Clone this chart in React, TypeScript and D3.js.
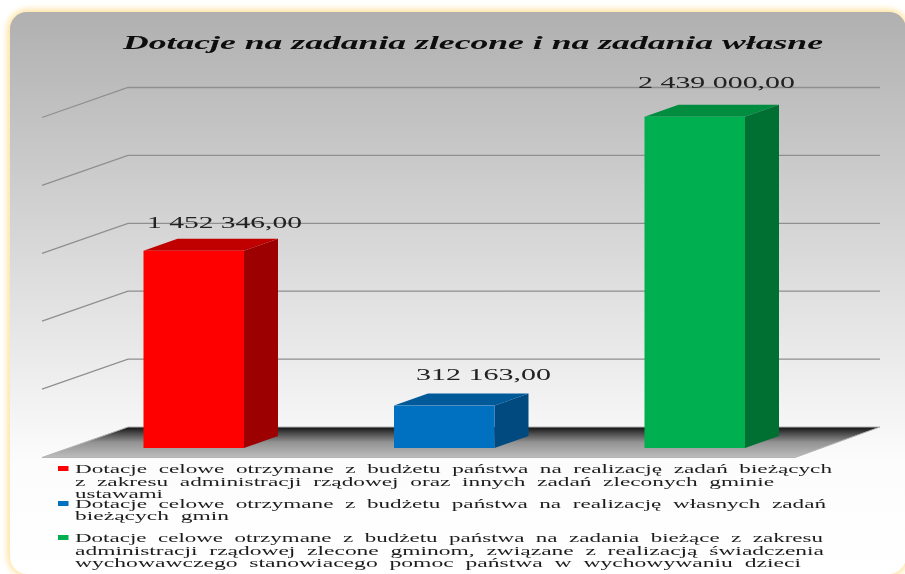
import React from "react";
import * as d3 from "d3";

const titleText = "Dotacje na zadania zlecone i na zadania własne";
const categories = ["zlecone", "wlasne", "wychowawcze"];
const values = [1452346, 312163, 2439000];
const valueLabels = ["1 452 346,00", "312 163,00", "2 439 000,00"];
const frontColors = ["#ff0000", "#0070c0", "#00b050"];
const topColors = ["#c00000", "#005a9a", "#008d40"];
const sideColors = ["#9c0000", "#004a80", "#006f32"];
const gridTicks = [500000, 1000000, 1500000, 2000000, 2500000];
const legendLines = [
  ["Dotacje celowe otrzymane z budżetu państwa na realizację zadań bieżących", "z zakresu administracji rządowej oraz innych zadań zleconych gminie", "ustawami"],
  ["Dotacje celowe otrzymane z budżetu państwa na realizację własnych zadań", "bieżących gmin"],
  ["Dotacje celowe otrzymane z budżetu państwa na zadania bieżące z zakresu", "administracji rządowej zlecone gminom, związane z realizacją świadczenia", "wychowawczego stanowiacego pomoc państwa w wychowywaniu dzieci"],
];
const legendWidths = [[757, 699, 88], [751, 154], [748, 749, 726]];
const legendBaselines = [[473, 485.5, 498], [508, 520], [542, 555, 567]];
const labelBoxes = [[147, 155, 228], [416, 135, 380], [638, 157, 88]];

const W = 905, H = 574;
const dx = 34, dy = 12;        // bar depth
const floorDx = 86, floorDy = 30; // wall depth
const y = d3.scaleLinear().domain([0, 2500000]).range([448, 108.5]);
const barW = 100.5;
const barX = d3.scalePoint<string>().domain(categories).range([143.5, 644.5]);
const SERIF = "'Liberation Serif','Times New Roman',serif";

export default function App() {
  const poly = (p: [number, number][]) => d3.line()(p)! + "Z";
  const backY = (v: number) => y(v) - 21;
  return (
    <svg width={W} height={H} viewBox={`0 0 ${W} ${H}`} style={{ position: "absolute", left: 0, top: 0, background: "#fff" }}>
      <defs>
        <linearGradient id="panel" x1="0" y1="0" x2="0" y2="1">
          <stop offset="0" stopColor="#b0b0b0" />
          <stop offset="0.5" stopColor="#e0e0e0" />
          <stop offset="0.8" stopColor="#fcfcfc" />
          <stop offset="1" stopColor="#ffffff" />
        </linearGradient>
        <linearGradient id="floor" x1="0" y1="0" x2="0" y2="1">
          <stop offset="0" stopColor="#111111" />
          <stop offset="0.2" stopColor="#484848" />
          <stop offset="0.5" stopColor="#929292" />
          <stop offset="1" stopColor="#bdbdbd" />
        </linearGradient>
        <filter id="glow" x="-5%" y="-5%" width="110%" height="110%">
          <feGaussianBlur stdDeviation="3.5" />
        </filter>
        <filter id="soft" x="-5%" y="-20%" width="110%" height="140%">
          <feGaussianBlur stdDeviation="0.45" />
        </filter>
      </defs>

      <rect x={8} y={10} width={900} height={566} rx={20} fill="#ffd97a" opacity={0.85} filter="url(#glow)" />
      <rect x={10} y={12} width={896} height={562} rx={17} fill="url(#panel)" />

      <g stroke="#8f8f8f" strokeWidth={1.3} fill="none" filter="url(#soft)">
        {gridTicks.map((t) => (
          <path key={t} d={d3.line()([
            [42, backY(t) + floorDy],
            [42 + floorDx, backY(t)],
            [880, backY(t)],
          ])!} />
        ))}
      </g>

      <path
        d={poly([[128, 427], [880, 427], [795, 457.5], [42, 457.5]])}
        fill="url(#floor)"
        stroke="#b4b4b4"
        strokeWidth={1}
      />

      {categories.map((c, i) => {
        const x0 = barX(c)!;
        const x1 = x0 + barW;
        const yt = y(values[i]);
        const yb = y(0);
        return (
          <g key={c}>
            <path d={poly([[x0, yt], [x0 + dx, yt - dy], [x1 + dx, yt - dy], [x1, yt]])} fill={topColors[i]} />
            <path d={poly([[x1, yt], [x1 + dx, yt - dy], [x1 + dx, yb - dy], [x1, yb]])} fill={sideColors[i]} />
            <rect x={x0} y={yt} width={barW} height={yb - yt} fill={frontColors[i]} />
          </g>
        );
      })}

      <g filter="url(#soft)">
        {valueLabels.map((t, i) => (
          <text key={t} x={labelBoxes[i][0]} y={labelBoxes[i][2]} textLength={labelBoxes[i][1]} lengthAdjust="spacingAndGlyphs"
            fontFamily={SERIF} fontSize={16.5} fill="#222">{t}</text>
        ))}
        <text x={123} y={49} textLength={700} lengthAdjust="spacingAndGlyphs" fontFamily={SERIF}
          fontSize={18} fontWeight="bold" fontStyle="italic" fill="#0a0a0a">{titleText}</text>

        {legendLines.map((lines, i) => (
          <g key={i}>
            <rect x={58} y={legendBaselines[i][0] - 7} width={10.5} height={5} fill={frontColors[i]} />
            {lines.map((l, j) => (
              <text key={j} x={75} y={legendBaselines[i][j]} textLength={legendWidths[i][j]} lengthAdjust="spacingAndGlyphs"
                fontFamily={SERIF} fontSize={12} wordSpacing={3} fill="#1c1c1c">{l}</text>
            ))}
          </g>
        ))}
      </g>
    </svg>
  );
}
